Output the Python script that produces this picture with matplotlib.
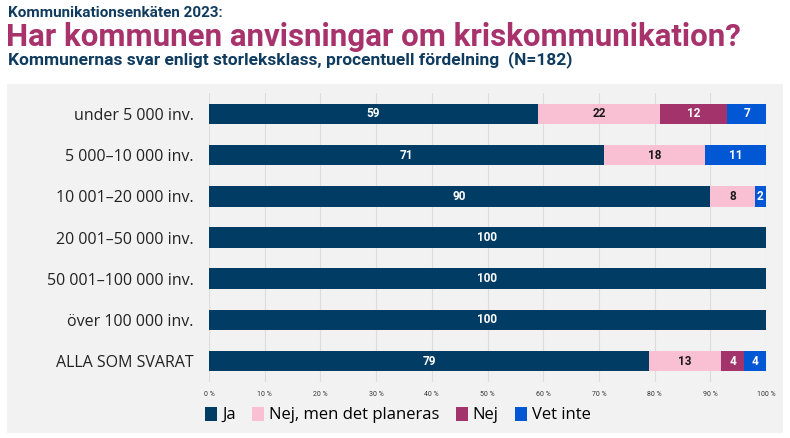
import matplotlib.pyplot as plt
from matplotlib.patches import Rectangle, Patch
import numpy as np

categories = ['under 5 000 inv.', '5 000–10 000 inv.', '10 001–20 000 inv.',
              '20 001–50 000 inv.', '50 001–100 000 inv.', 'över 100 000 inv.',
              'ALLA SOM SVARAT']
series_names = ['Ja', 'Nej, men det planeras', 'Nej', 'Vet inte']
ja = [59, 71, 90, 100, 100, 100, 79]
nej_planeras = [22, 18, 8, 0, 0, 0, 13]
nej = [12, 0, 0, 0, 0, 0, 4]
vet_inte = [7, 11, 2, 0, 0, 0, 4]
x_ticks = [0, 10, 20, 30, 40, 50, 60, 70, 80, 90, 100]

colors = ['#003c64', '#f9bfd2', '#a3336b', '#0257d4']
text_colors = ['white', '#1a1a1a', 'white', 'white']
navy = '#0f3b5f'
magenta = '#a8336c'

plt.rcParams['font.family'] = ['Roboto', 'DejaVu Sans']

fig = plt.figure(figsize=(7.9, 4.38), dpi=100)
fig.patch.set_facecolor('white')

# grey panel behind chart
fig.patches.append(Rectangle((7 / 790, 1 - 433 / 438), 776 / 790, 349 / 438,
                             transform=fig.transFigure, facecolor='#f2f2f2',
                             edgecolor='none', zorder=-5))

fig.text(8 / 790, 1 - 13 / 438, 'Kommunikationsenkäten 2023:', fontsize=11,
         fontweight='bold', color=navy, va='center', ha='left')
fig.text(6 / 790, 1 - 37 / 438, 'Har kommunen anvisningar om kriskommunikation?',
         fontsize=22.5, fontweight='bold', color=magenta, va='center', ha='left')
fig.text(8 / 790, 1 - 60 / 438,
         'Kommunernas svar enligt storleksklass, procentuell fördelning  (N=182)',
         fontsize=12.5, fontweight='bold', color=navy, va='center', ha='left')

ax = fig.add_axes([209 / 790, 1 - 381.6 / 438, 557 / 790, 288.2 / 438])
ax.set_facecolor('none')
ax.set_zorder(2)

data = [ja, nej_planeras, nej, vet_inte]
y = np.arange(len(categories))
left = np.zeros(len(categories))
for vals, name, c, tc in zip(data, series_names, colors, text_colors):
    vals = np.array(vals, dtype=float)
    ax.barh(y, vals, left=left, height=0.5, color=c, label=name, zorder=3)
    for yi, (l, v) in enumerate(zip(left, vals)):
        if v > 0:
            ax.text(l + v / 2, yi, str(int(v)), ha='center', va='center',
                    fontsize=8.5, fontweight='bold', color=tc, zorder=4)
    left += vals

ax.set_xlim(0, 100)
ax.set_ylim(len(categories) - 0.5, -0.5)
ax.set_yticks(y)
ax.set_yticklabels(categories, fontsize=11.5, color='#222222',
                   family=['Open Sans', 'DejaVu Sans'])
ax.set_xticks(x_ticks)
ax.set_xticklabels([f'{t} %' for t in x_ticks], fontsize=5, color='#333333')
ax.tick_params(axis='both', length=0)
ax.tick_params(axis='y', pad=11)
ax.tick_params(axis='x', pad=7)
ax.grid(axis='x', color='#dcdcdc', linewidth=0.8, zorder=0)
for s in ax.spines.values():
    s.set_visible(False)

handles = [Patch(facecolor=c, edgecolor='none') for c in colors]
fig.legend(handles, series_names, loc='center', bbox_to_anchor=(398 / 790, 1 - 415 / 438),
           ncol=4, frameon=False, handlelength=0.7, handleheight=0.9,
           handletextpad=0.3, columnspacing=1.0,
           prop={'family': ['Open Sans', 'DejaVu Sans'], 'size': 12})

fig.savefig('out.png', dpi=100, facecolor='white')
